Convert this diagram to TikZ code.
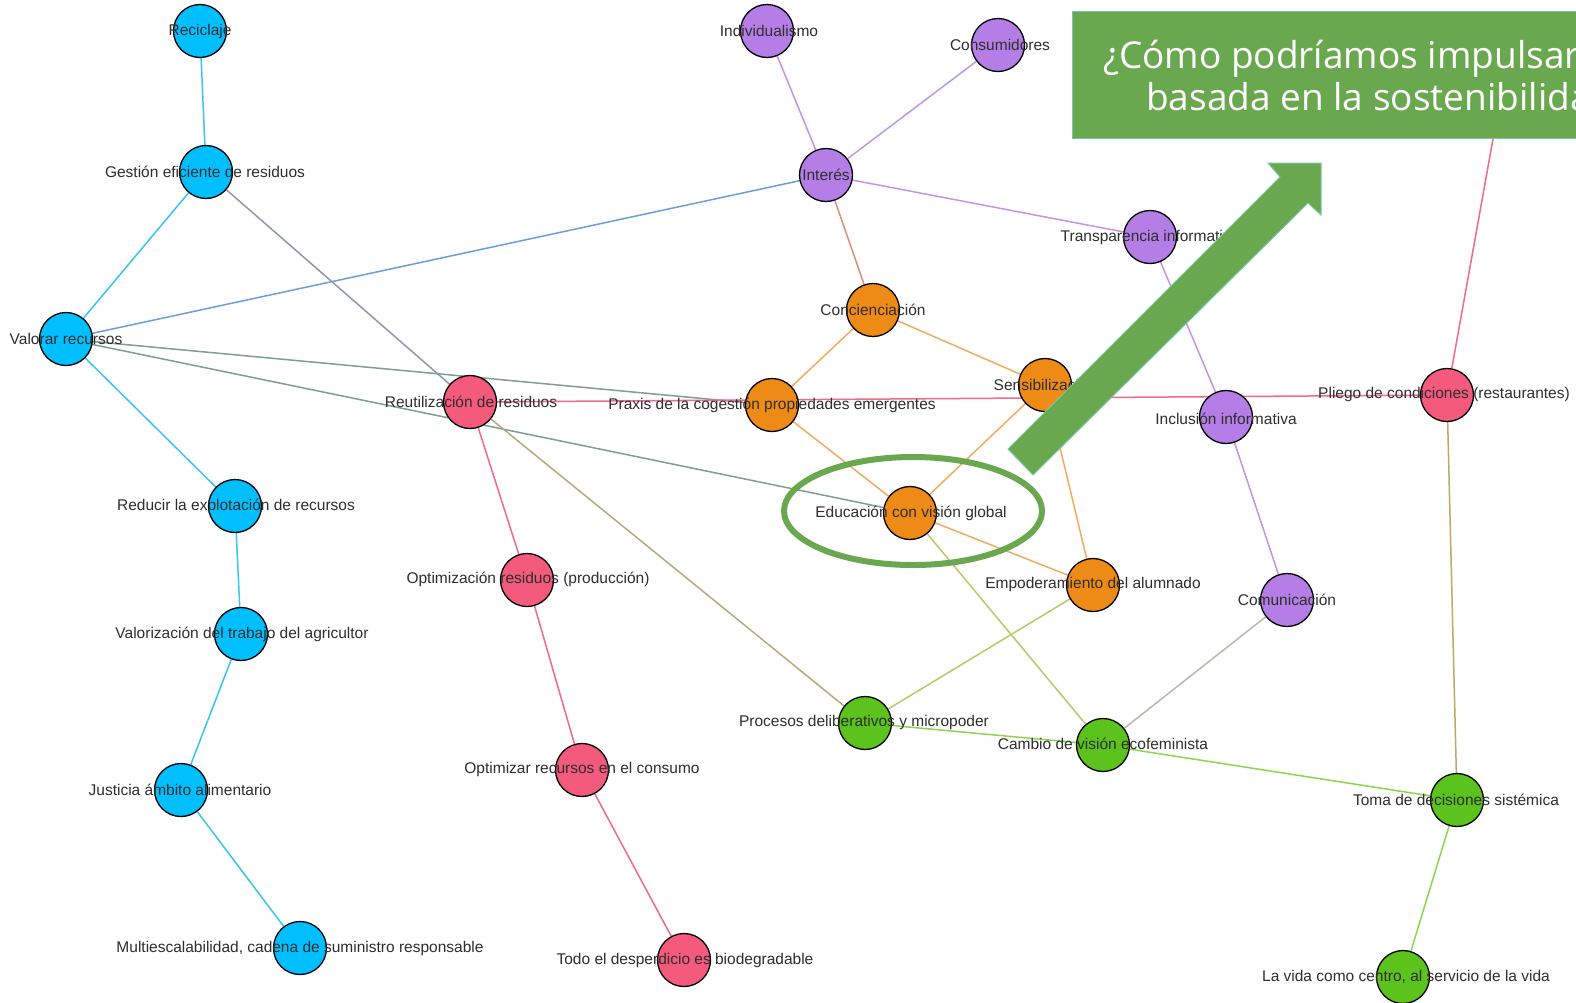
\documentclass[tikz,border=0pt]{standalone}
\usepackage{fontspec}
\setmainfont{Liberation Sans}
\newfontfamily\boxfont{Open Sans}
\usetikzlibrary{shapes.geometric}
\pgfdeclarelayer{bottom}
\pgfdeclarelayer{bg}
\pgfsetlayers{bottom,bg,main}
\definecolor{ncyan}{HTML}{00BFFF}
\definecolor{npurp}{HTML}{B57EE6}
\definecolor{norange}{HTML}{EE8A16}
\definecolor{npink}{HTML}{F45A7C}
\definecolor{ngreen}{HTML}{5CC21C}
\definecolor{ecyan}{HTML}{38C6EE}
\definecolor{eblue}{HTML}{6A9FDD}
\definecolor{egrayblue}{HTML}{8A98B0}
\definecolor{egreen}{HTML}{7E9E92}
\definecolor{epink}{HTML}{F06A8C}
\definecolor{epurp}{HTML}{C295E6}
\definecolor{esalmon}{HTML}{D9907A}
\definecolor{eorange}{HTML}{F2AC5E}
\definecolor{etan}{HTML}{B9A87C}
\definecolor{eyg}{HTML}{BCC864}
\definecolor{egray}{HTML}{B8B8B0}
\definecolor{egr}{HTML}{8CD64E}
\definecolor{eolive}{HTML}{BAAA66}
\definecolor{boxgreen}{HTML}{6AA84F}
\definecolor{boxedge}{HTML}{78C8A8}
\definecolor{lbltext}{HTML}{2E2E2E}
\tikzset{
  vert/.style={circle, draw=black, line width=1.3pt, minimum size=53pt, inner sep=0pt},
  lbl/.style={inner sep=0pt, text=lbltext, font=\fontsize{15.5}{18}\selectfont},
  edge/.style={line width=1.5pt},
}
\begin{document}
\begin{tikzpicture}[x=1pt,y=-1pt]
\useasboundingbox (0,0) rectangle (1576,1002);
\begin{pgfonlayer}{bottom}
\fill[white] (0,0) rectangle (1576,1002);
\end{pgfonlayer}
\begin{scope}
\clip (0,0) rectangle (1576,1002);
% circles
\node[vert, fill=ncyan] (rec) at (200,31) {};
\node[vert, fill=ncyan] (ges) at (206,172) {};
\node[vert, fill=ncyan] (val) at (66,339) {};
\node[vert, fill=ncyan] (red) at (235,506) {};
\node[vert, fill=ncyan] (vtr) at (241,634) {};
\node[vert, fill=ncyan] (jus) at (181,790) {};
\node[vert, fill=ncyan] (mul) at (300,948) {};
\node[vert, fill=npurp] (ind) at (767,31) {};
\node[vert, fill=npurp] (con) at (998,45) {};
\node[vert, fill=npurp] (int) at (826,175) {};
\node[vert, fill=npurp] (tra) at (1150,237) {};
\node[vert, fill=norange] (cnc) at (873,310) {};
\node[vert, fill=norange] (sen) at (1045,385) {};
\node[vert, fill=norange] (pra) at (772,405) {};
\node[vert, fill=npink] (reu) at (470,402) {};
\node[vert, fill=npurp] (inc) at (1226,417) {};
\node[vert, fill=npink] (pli) at (1447,395) {};
\node[vert, fill=norange] (edu) at (910,513) {};
\node[vert, fill=norange] (emp) at (1093,585) {};
\node[vert, fill=npurp] (com) at (1287,600) {};
\node[vert, fill=npink] (opr) at (527,580) {};
\node[vert, fill=ngreen] (pro) at (865,723) {};
\node[vert, fill=ngreen] (cam) at (1103,745) {};
\node[vert, fill=npink] (opc) at (582,770) {};
\node[vert, fill=ngreen] (tom) at (1457,800) {};
\node[vert, fill=npink] (tod) at (684,960) {};
\node[vert, fill=ngreen] (vid) at (1403,977) {};
\coordinate (hid) at (1500,100);
% edges
\begin{pgfonlayer}{bg}
\draw[edge, ecyan] (rec) -- (ges);
\draw[edge, ecyan] (ges) -- (val);
\draw[edge, ecyan] (val) -- (red);
\draw[edge, ecyan] (red) -- (vtr);
\draw[edge, ecyan] (vtr) -- (jus);
\draw[edge, ecyan] (jus) -- (mul);
\draw[edge, eblue] (val) -- (int);
\draw[edge, egrayblue] (ges) -- (reu);
\draw[edge, egreen] (val) -- (pra);
\draw[edge, egreen] (val) -- (edu);
\draw[edge, epink] (reu) -- (pli);
\draw[edge, epink] (pli) -- (hid);
\draw[edge, epink] (reu) -- (opr);
\draw[edge, epink] (opr) -- (opc);
\draw[edge, epink] (opc) -- (tod);
\draw[edge, etan] (reu) -- (pro);
\draw[edge, epurp] (ind) -- (int);
\draw[edge, epurp] (con) -- (int);
\draw[edge, epurp] (int) -- (tra);
\draw[edge, epurp] (tra) -- (inc);
\draw[edge, epurp] (inc) -- (com);
\draw[edge, esalmon] (int) -- (cnc);
\draw[edge, eorange] (cnc) -- (pra);
\draw[edge, eorange] (cnc) -- (sen);
\draw[edge, eorange] (pra) -- (edu);
\draw[edge, eorange] (sen) -- (edu);
\draw[edge, eorange] (sen) -- (emp);
\draw[edge, eorange] (edu) -- (emp);
\draw[edge, eyg] (edu) -- (cam);
\draw[edge, eyg] (emp) -- (pro);
\draw[edge, egray] (com) -- (cam);
\draw[edge, egr] (pro) -- (cam);
\draw[edge, egr] (cam) -- (tom);
\draw[edge, eolive] (pli) -- (tom);
\draw[edge, egr] (tom) -- (vid);
\end{pgfonlayer}
% labels
\node[lbl] (lrec) at (rec) {Reciclaje};
\node[lbl] (lges) at (205,172) {Gestión eficiente de residuos};
\node[lbl] (lval) at (66,339) {Valorar recursos};
\node[lbl] (lred) at (236,506) {Reducir la explotación de recursos};
\node[lbl] (lvtr) at (242,634) {Valorización del trabajo del agricultor};
\node[lbl] (ljus) at (180,790) {Justicia ámbito alimentario};
\node[lbl] (lmul) at (300,948) {Multiescalabilidad, cadena de suministro responsable};
\node[lbl] (lind) at (769,31) {Individualismo};
\node[lbl] (lcon) at (1000,45) {Consumidores};
\node[lbl] (lint) at (826,175) {Interés};
\node[lbl] (ltra) at (1150,237) {Transparencia informativa};
\node[lbl] (lcnc) at (873,310) {Concienciación};
\node[lbl] (lsen) at (1045,385) {Sensibilización};
\node[lbl] (lpra) at (772,405) {Praxis de la cogestión propiedades emergentes};
\node[lbl] (lreu) at (471,402) {Reutilización de residuos};
\node[lbl] (linc) at (1226,419) {Inclusión informativa};
\node[lbl] (lpli) at (1444,394) {Pliego de condiciones (restaurantes)};
\node[lbl] (ledu) at (911,513) {Educación con visión global};
\node[lbl] (lemp) at (1093,584) {Empoderamiento del alumnado};
\node[lbl] (lcom) at (1287,600) {Comunicación};
\node[lbl] (lopr) at (528,579) {Optimización residuos (producción)};
\node[lbl] (lpro) at (864,722) {Procesos deliberativos y micropoder};
\node[lbl] (lcam) at (1103,744) {Cambio de visión ecofeminista};
\node[lbl] (lopc) at (582,769) {Optimizar recursos en el consumo};
\node[lbl] (ltom) at (1456,800) {Toma de decisiones sistémica};
\node[lbl] (ltod) at (685,960) {Todo el desperdicio es biodegradable};
\node[lbl] (lvid) at (1406,977) {La vida como centro, al servicio de la vida};
% highlight oval
\node[ellipse, draw=boxgreen, line width=6pt, minimum width=258pt, minimum height=108pt, inner sep=0pt] (oval) at (913,511) {};
% big arrow
\filldraw[fill=boxgreen, draw=boxedge, line width=1pt]
  (1008,449) -- (1280,177) -- (1268,163) -- (1321,163) -- (1321,215) -- (1308,203) -- (1033,475) -- cycle;
% question box
\node[fill=boxgreen, draw=boxedge, line width=1pt, anchor=north west, minimum width=600pt, minimum height=127pt, inner sep=0pt] (qbox) at (1072,11) {};
\node[anchor=base west, inner sep=0pt, text=white, font=\boxfont\fontsize{37}{44}\selectfont] (q1) at (1103,68) {¿Cómo podríamos impulsar una alimentación};
\node[anchor=base west, inner sep=0pt, text=white, font=\boxfont\fontsize{37}{44}\selectfont] (q2) at (1146,110) {basada en la sostenibilidad?};
\end{scope}
\end{tikzpicture}
\end{document}
